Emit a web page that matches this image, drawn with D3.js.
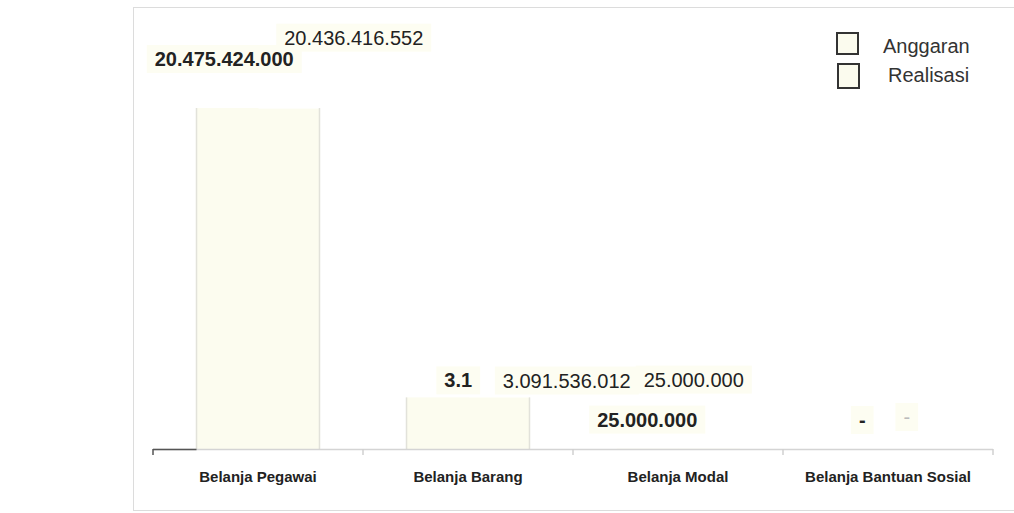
<!DOCTYPE html>
<html>
<head>
<meta charset="utf-8">
<script src="https://cdn.jsdelivr.net/npm/d3@7"></script>
<style>
  html, body { margin: 0; padding: 0; background: #ffffff; }
  svg { display: block; }
  text { font-family: "Liberation Sans", Arial, sans-serif; }
</style>
</head>
<body>
<svg id="chart" width="1014" height="513"></svg>
<script>
// ---- data ----
const categories = ["Belanja Pegawai", "Belanja Barang", "Belanja Modal", "Belanja Bantuan Sosial"];
const seriesNames = ["Anggaran", "Realisasi"];
const anggaran = [20475424000, 3100000000, 25000000, 0];
const realisasi = [20436416552, 3091536012, 25000000, 0];
const anggaranLabels = ["20.475.424.000", "3.1", "25.000.000", "-"];
const realisasiLabels = ["20.436.416.552", "3.091.536.012", "25.000.000", "-"];

// ---- layout (label offsets relative to each bar) ----
const labelOffsets = {
  Anggaran:  [{dx: -3, dy: -42}, {dx: 21, dy: -10}, {dx: 0, dy: -22}, {dx: 5, dy: -22}],
  Realisasi: [{dx: 65, dy: -64}, {dx: 68, dy: -10}, {dx: -15, dy: -62}, {dx: -12, dy: -25}]
};

const svg = d3.select("#chart");

// outer frame
svg.append("rect")
  .attr("x", 133.5).attr("y", 7.5).attr("width", 900).attr("height", 503)
  .attr("fill", "none").attr("stroke", "#dcdcdc").attr("stroke-width", 1);

const x = d3.scaleBand().domain(categories).range([153, 993]).paddingInner(0).paddingOuter(0);
const xSub = d3.scaleBand().domain(seriesNames).range([0, x.bandwidth()]).paddingInner(0).paddingOuter(0.707);
const y = d3.scaleLinear().domain([0, 20475424000]).range([449, 108]);

const rows = [];
categories.forEach((c, i) => {
  rows.push({cat: c, series: "Anggaran", value: anggaran[i], label: anggaranLabels[i], i});
  rows.push({cat: c, series: "Realisasi", value: realisasi[i], label: realisasiLabels[i], i});
});

// bars
svg.append("g").selectAll("rect").data(rows).join("rect")
  .attr("x", d => x(d.cat) + xSub(d.series))
  .attr("width", xSub.bandwidth() + 0.5)
  .attr("y", d => y(d.value))
  .attr("height", d => y(0) - y(d.value))
  .attr("fill", "#fcfcef");

// faint side edges of each bar pair
const edges = svg.append("g");
categories.forEach((c, i) => {
  const top = y(Math.max(anggaran[i], realisasi[i]));
  if (y(0) - top < 2) return;
  [x(c) + xSub("Anggaran"), x(c) + xSub("Realisasi") + xSub.bandwidth()].forEach(px => {
    edges.append("line").attr("x1", px).attr("x2", px).attr("y1", top).attr("y2", y(0))
      .attr("stroke", "#e2e2da").attr("stroke-width", 1.5);
  });
});

// axis
const axisG = svg.append("g").attr("transform", "translate(0,449)");
axisG.append("line").attr("x1", 153).attr("x2", 993).attr("y1", 0.5).attr("y2", 0.5)
  .attr("stroke", "#d4d4d4").attr("stroke-width", 1.5);
axisG.append("line").attr("x1", 153).attr("x2", x(categories[0]) + xSub("Anggaran")).attr("y1", 0.5).attr("y2", 0.5)
  .attr("stroke", "#555").attr("stroke-width", 1.5);
const tickPos = categories.map(c => x(c)).concat([x.range()[1]]);
axisG.selectAll("line.tick").data(tickPos).join("line")
  .attr("class", "tick")
  .attr("x1", d => d).attr("x2", d => d).attr("y1", 0).attr("y2", 6)
  .attr("stroke", (d, i) => i === 0 ? "#555" : "#d0d0d0").attr("stroke-width", 1.5);

svg.append("g").selectAll("text").data(categories).join("text")
  .attr("x", d => x(d) + x.bandwidth() / 2)
  .attr("y", 482)
  .attr("text-anchor", "middle")
  .attr("font-size", 15).attr("font-weight", "bold").attr("fill", "#222")
  .text(d => d);

// value labels with cream backgrounds
const labG = svg.append("g");
const labs = labG.selectAll("g").data(rows).join("g");
labs.append("rect").attr("class", "bg");
labs.append("text")
  .attr("x", d => x(d.cat) + xSub(d.series) + xSub.bandwidth() / 2 + labelOffsets[d.series][d.i].dx)
  .attr("y", d => y(d.value) + labelOffsets[d.series][d.i].dy)
  .attr("text-anchor", "middle")
  .attr("font-size", 20)
  .attr("font-weight", d => d.series === "Anggaran" ? "bold" : "normal")
  .attr("fill", d => (d.series === "Realisasi" && d.value === 0) ? "#bbb" : "#222")
  .text(d => d.label);
labs.each(function() {
  const g = d3.select(this);
  const bb = g.select("text").node().getBBox();
  g.select("rect.bg")
    .attr("x", bb.x - 8).attr("y", bb.y - 3)
    .attr("width", bb.width + 16).attr("height", bb.height + 6)
    .attr("fill", "#fdfdf2");
});

// legend
const legend = svg.append("g");
const legY = [33, 64];
const legG = legend.selectAll("g").data(seriesNames).join("g");
legG.append("rect")
  .attr("x", (d, i) => 837 + i).attr("y", (d, i) => legY[i])
  .attr("width", 21).attr("height", (d, i) => i === 0 ? 21 : 24)
  .attr("fill", "#fbfbee").attr("stroke", "#333").attr("stroke-width", 2);
legG.append("text")
  .attr("x", (d, i) => i === 0 ? 883 : 888)
  .attr("y", (d, i) => i === 0 ? 53 : 82)
  .attr("font-size", 20).attr("fill", "#333")
  .text(d => d);
</script>
</body>
</html>
